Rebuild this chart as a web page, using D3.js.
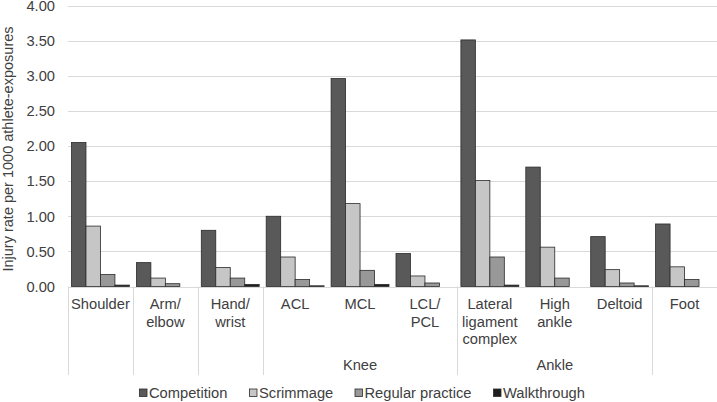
<!DOCTYPE html>
<html>
<head>
<meta charset="utf-8">
<script src="https://cdn.jsdelivr.net/npm/d3@7"></script>
<style>
  html, body { margin: 0; padding: 0; background: #fff; }
  svg { display: block; font-family: "Liberation Sans", Arial, sans-serif; }
</style>
</head>
<body>
<svg id="chart" width="717" height="402"></svg>
<script>
// ---- Data ----
const categories = ["Shoulder", "Arm/elbow", "Hand/wrist", "ACL", "MCL", "LCL/PCL",
  "Lateral ligament complex", "High ankle", "Deltoid", "Foot"];
const categoryLines = [["Shoulder"], ["Arm/", "elbow"], ["Hand/", "wrist"], ["ACL"], ["MCL"],
  ["LCL/", "PCL"], ["Lateral", "ligament", "complex"], ["High", "ankle"], ["Deltoid"], ["Foot"]];
const groups = [
  { name: "", members: ["Shoulder"] },
  { name: "", members: ["Arm/elbow"] },
  { name: "", members: ["Hand/wrist"] },
  { name: "Knee", members: ["ACL", "MCL", "LCL/PCL"] },
  { name: "Ankle", members: ["Lateral ligament complex", "High ankle", "Deltoid"] },
  { name: "", members: ["Foot"] }
];
const seriesNames = ["Competition", "Scrimmage", "Regular practice", "Walkthrough"];
const competition = [2.05, 0.34, 0.80, 1.00, 2.96, 0.47, 3.51, 1.70, 0.71, 0.89];
const scrimmage   = [0.86, 0.12, 0.27, 0.42, 1.18, 0.15, 1.51, 0.56, 0.24, 0.28];
const regular     = [0.17, 0.04, 0.12, 0.10, 0.23, 0.05, 0.42, 0.12, 0.05, 0.10];
const walkthrough = [0.02, 0.00, 0.03, 0.01, 0.03, 0.00, 0.02, 0.00, 0.01, 0.00];
const yTicks = [0, 0.5, 1, 1.5, 2, 2.5, 3, 3.5, 4];
const yTitle = "Injury rate per 1000 athlete-exposures";

// ---- Styles ----
const colors = ["#595959", "#c6c6c6", "#989898", "#1e1e1e"];
const textColor = "#404040";
const fontSize = 14.7;

const seriesValues = [competition, scrimmage, regular, walkthrough];

const svg = d3.select("#chart");
const mLeft = 68, mRight = 717, mTop = 5.5, mBottom = 286.5;

const x0 = d3.scaleBand().domain(categories).range([mLeft, mRight]).padding(0);
const x1 = d3.scaleBand().domain(seriesNames).range([3.5, x0.bandwidth() - 3.5]).padding(0);
const y = d3.scaleLinear().domain([0, 4]).range([mBottom, mTop]);

// gridlines
svg.append("g").selectAll("line").data(yTicks).join("line")
  .attr("x1", mLeft).attr("x2", mRight)
  .attr("y1", d => Math.round(y(d)) + 0.5).attr("y2", d => Math.round(y(d)) + 0.5)
  .attr("stroke", "#d9d9d9").attr("stroke-width", 1);

// y tick labels
svg.append("g").selectAll("text").data(yTicks).join("text")
  .attr("x", 55).attr("y", d => y(d)).attr("dy", "0.36em")
  .attr("text-anchor", "end").attr("fill", textColor).attr("font-size", fontSize)
  .text(d => d3.format(".2f")(d));

// y title
svg.append("text")
  .attr("transform", `translate(12.5,149) rotate(-90)`)
  .attr("text-anchor", "middle").attr("fill", textColor).attr("font-size", 14.5)
  .text(yTitle);

// bars
const barData = [];
categories.forEach((c, i) => seriesNames.forEach((s, j) => {
  barData.push({ cat: c, series: s, idx: j, value: seriesValues[j][i] });
}));
svg.append("g").selectAll("rect").data(barData.filter(d => d.value > 0)).join("rect")
  .attr("x", d => x0(d.cat) + x1(d.series))
  .attr("width", x1.bandwidth())
  .attr("y", d => y(d.value))
  .attr("height", d => y(0) - y(d.value))
  .attr("fill", d => colors[d.idx])
  .attr("stroke", "#2b2b2b").attr("stroke-width", 0.8);

// category separators (group boundaries)
const boundaries = [categories[0]];
let acc = 0;
groups.forEach(g => { acc += g.members.length; if (acc < categories.length) boundaries.push(categories[acc]); });
const sepX = boundaries.map(c => x0(c)).concat([mRight]);
svg.append("g").selectAll("line").data(sepX).join("line")
  .attr("x1", d => Math.round(d) + 0.5).attr("x2", d => Math.round(d) + 0.5)
  .attr("y1", mBottom).attr("y2", 375)
  .attr("stroke", "#d9d9d9").attr("stroke-width", 1);

// category labels
const catG = svg.append("g").attr("fill", textColor).attr("font-size", fontSize).attr("text-anchor", "middle");
categories.forEach((c, i) => {
  const cx = x0(c) + x0.bandwidth() / 2;
  const t = catG.append("text").attr("x", cx).attr("y", 309);
  categoryLines[i].forEach((line, k) => {
    t.append("tspan").attr("x", cx).attr("y", 309 + k * 17.5).text(line);
  });
});

// group labels
groups.filter(g => g.name).forEach(g => {
  const gx1 = x0(g.members[0]);
  const gx2 = x0(g.members[g.members.length - 1]) + x0.bandwidth();
  svg.append("text").attr("x", (gx1 + gx2) / 2).attr("y", 370)
    .attr("text-anchor", "middle").attr("fill", textColor).attr("font-size", fontSize)
    .text(g.name);
});

// legend
const legendX = [139.5, 249.5, 355, 493.5];
const lg = svg.append("g");
seriesNames.forEach((s, j) => {
  lg.append("rect").attr("x", legendX[j]).attr("y", 389).attr("width", 7.5).attr("height", 7.5)
    .attr("fill", colors[j]).attr("stroke", "#2b2b2b").attr("stroke-width", 0.8);
  lg.append("text").attr("x", legendX[j] + 9.5).attr("y", 398.3)
    .attr("fill", textColor).attr("font-size", fontSize).text(s);
});
</script>
</body>
</html>
